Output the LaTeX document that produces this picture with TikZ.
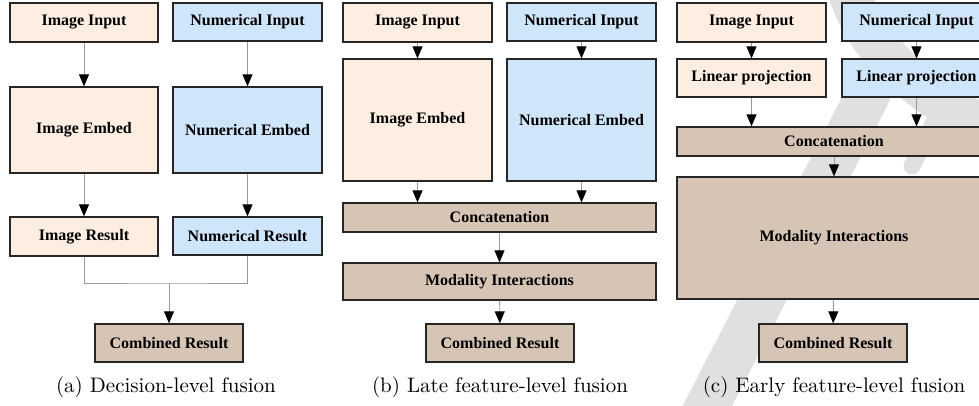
\documentclass[tikz,border=0pt]{standalone}
\usepackage{fontspec}
\newfontfamily\boxfont{Liberation Serif}
\usetikzlibrary{arrows.meta}

\definecolor{imgfill}{HTML}{FDEEE1}
\definecolor{numfill}{HTML}{CFE5FA}
\definecolor{fusefill}{HTML}{D6C4B4}
\definecolor{wmark}{HTML}{E0E0E0}
\definecolor{linkgray}{HTML}{9A9A9A}

\tikzset{
  blk/.style={draw=black!85, line width=1.3pt, inner sep=0pt, align=center,
    font=\boxfont\bfseries\fontsize{16}{19}\selectfont},
  wh/.style 2 args={minimum width=#1pt, minimum height=#2pt},
  imgbox/.style={blk, fill=imgfill},
  numbox/.style={blk, fill=numfill},
  fusebox/.style={blk, fill=fusefill},
  link/.style={draw=linkgray, line width=0.9pt,
    -{Triangle[length=12pt,width=10pt,color=black]}},
  plainlink/.style={draw=linkgray, line width=0.9pt},
  subcap/.style={scale=2.1, font=\fontsize{10}{12}\selectfont, anchor=base},
  wmstroke/.style={draw=wmark, line cap=round},
}

\begin{document}
\begin{tikzpicture}[x=1pt, y=-1pt]
\useasboundingbox (0,0) rectangle (979,405);

% faint background watermark strokes
\draw[wmstroke, line width=42pt] (845,-20) .. controls (862,40) and (900,85) .. (1000,135);
\draw[wmstroke, line width=44pt] (868,95) -- (700,420);
\draw[wmstroke, line width=17pt] (935,120) -- (912,166);

% (a) decision-level fusion
\node[imgbox, wh={148}{39}] (a-in1)  at (84,22.5)   {Image Input};
\node[numbox, wh={149}{38}] (a-in2)  at (247.5,22)  {Numerical Input};
\node[imgbox, wh={148}{86}] (a-emb1) at (84,130)    {Image Embed};
\node[numbox, wh={149}{86}] (a-emb2) at (247.5,130) {Numerical Embed};
\node[imgbox, wh={148}{39}] (a-res1) at (84,236.5)  {Image Result};
\node[numbox, wh={149}{38}] (a-res2) at (247.5,236) {Numerical Result};
\node[fusebox, wh={148}{38}] (a-comb) at (169,343)  {Combined Result};
\coordinate (a-join) at (169,283);

\draw[link] (a-in1) -- (a-emb1);
\draw[link] (a-in2) -- (a-emb2);
\draw[link] (a-emb1) -- (a-res1);
\draw[link] (a-emb2) -- (a-res2);
\draw[plainlink] (a-res1.south) |- (a-join) -| (a-res2.south);
\draw[link] (a-join) -- (a-comb);
\node[subcap] (a-cap) at (166,392) {(a) Decision-level fusion};

% (b) late feature-level fusion
\node[imgbox, wh={149}{39}] (b-in1)  at (417.5,22.5) {Image Input};
\node[numbox, wh={149}{38}] (b-in2)  at (581.5,22)   {Numerical Input};
\node[imgbox, wh={149}{122}] (b-emb1) at (417.5,120) {Image Embed};
\node[numbox, wh={149}{122}] (b-emb2) at (581.5,120) {Numerical Embed};
\node[fusebox, wh={313}{29}] (b-cat)  at (499.5,217.5) {Concatenation};
\node[fusebox, wh={313}{37}] (b-mod)  at (499.5,281.5) {Modality Interactions};
\node[fusebox, wh={148}{38}] (b-comb) at (500,343)     {Combined Result};

\draw[link] (b-in1) -- (b-emb1);
\draw[link] (b-in2) -- (b-emb2);
\draw[link] (b-emb1.south) -- (b-emb1.south |- b-cat.north);
\draw[link] (b-emb2.south) -- (b-emb2.south |- b-cat.north);
\draw[link] (b-cat) -- (b-mod);
\draw[link] (b-mod) -- (b-comb);
\node[subcap] (b-cap) at (500,392) {(b) Late feature-level fusion};

% (c) early feature-level fusion
\node[imgbox, wh={149}{39}] (c-in1) at (751.5,22.5) {Image Input};
\node[numbox, wh={149}{38}] (c-in2) at (916.5,22)   {Numerical Input};
\node[imgbox, wh={149}{38}] (c-lp1) at (751.5,78)   {Linear projection};
\node[numbox, wh={149}{38}] (c-lp2) at (916.5,78)   {Linear projection};
\node[fusebox, wh={314}{29}] (c-cat)  at (834,141.5) {Concatenation};
\node[fusebox, wh={314}{122}] (c-mod) at (834,238)   {Modality Interactions};
\node[fusebox, wh={148}{38}] (c-comb) at (833,343)   {Combined Result};

\draw[link] (c-in1) -- (c-lp1);
\draw[link] (c-in2) -- (c-lp2);
\draw[link] (c-lp1.south) -- (c-lp1.south |- c-cat.north);
\draw[link] (c-lp2.south) -- (c-lp2.south |- c-cat.north);
\draw[link] (c-cat) -- (c-mod);
\draw[link] (c-mod) -- (c-comb);
\node[subcap] (c-cap) at (834,392) {(c) Early feature-level fusion};
\end{tikzpicture}
\end{document}
